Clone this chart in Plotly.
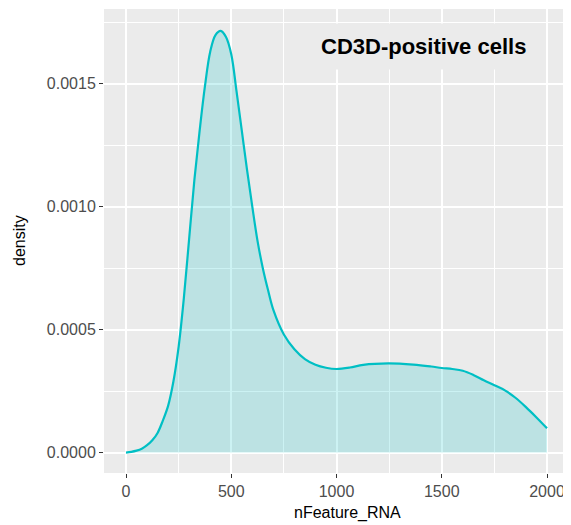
import plotly.graph_objects as go

# Data
n_feature = [0, 25, 50, 75, 100, 125, 150, 175, 200, 225, 250, 275, 300, 325,
             350, 375, 400, 425, 450, 475, 500, 525, 550, 575, 600, 625, 650,
             675, 700, 750, 800, 850, 900, 950, 1000, 1064, 1127, 1246, 1365,
             1450, 1500, 1550, 1600, 1650, 1700, 1750, 1800, 1850, 1900, 1950,
             2000]
density = [0.0, 0.000003, 0.000008, 0.000016, 0.00003, 0.00005, 0.00008,
           0.00013, 0.00019, 0.000288, 0.00043, 0.00063, 0.00087, 0.00111,
           0.00131, 0.00149, 0.00163, 0.001698, 0.001715, 0.00169, 0.00162,
           0.00147, 0.00131, 0.00115, 0.00100, 0.00086, 0.00075, 0.00066,
           0.00058, 0.00048, 0.00042, 0.00038, 0.000357, 0.000345, 0.00034,
           0.000346, 0.000357, 0.000363, 0.000358, 0.00035, 0.000344, 0.00034,
           0.000333, 0.000316, 0.000294, 0.000274, 0.000253, 0.000223,
           0.000185, 0.000143, 0.0000988]

x_ticks = [0, 500, 1000, 1500, 2000]
y_ticks = [0.0, 0.0005, 0.0010, 0.0015]
y_tick_labels = ["0.0000", "0.0005", "0.0010", "0.0015"]
title_text = "CD3D-positive cells"
x_title = "nFeature_RNA"
y_title = "density"

FONT = "Liberation Sans, Arial, Helvetica, sans-serif"

fig = go.Figure()
fig.add_trace(go.Scatter(
    x=n_feature, y=density, mode="lines",
    line=dict(color="#00BFC4", width=2.2, shape="spline", smoothing=1.0),
    fill="tozeroy", fillcolor="rgba(0,191,196,0.2)",
    hoverinfo="skip", showlegend=False,
))

fig.add_annotation(
    x=1411, y=0.00165, xref="x", yref="y", text="<b>" + title_text + "</b>",
    showarrow=False, font=dict(family=FONT, size=22, color="black"),
    bgcolor="#EBEBEB", borderpad=10,
)
# axis titles
fig.add_annotation(
    x=0.5, y=0, xref="paper", yref="paper", xanchor="center", yanchor="middle",
    xshift=11, yshift=-40,
    text=x_title, showarrow=False, font=dict(family=FONT, size=16, color="black"),
)
fig.add_annotation(
    x=0, y=0.5, xref="paper", yref="paper", xanchor="center", yanchor="middle",
    xshift=-85, textangle=-90,
    text=y_title, showarrow=False, font=dict(family=FONT, size=16, color="black"),
)

axis_common = dict(
    showline=False, zeroline=False, showgrid=True, gridcolor="white",
    gridwidth=1.6, ticks="outside", ticklen=4, tickwidth=1, tickcolor="#333333",
    tickfont=dict(family=FONT, size=16, color="#4D4D4D"), automargin=False,
)

fig.update_xaxes(
    range=[-104.5, 2104.5], tickvals=x_ticks,
    minor=dict(dtick=250, tick0=250, showgrid=True, gridcolor="white", gridwidth=0.8, ticks=""),
    **axis_common,
)
fig.update_yaxes(
    range=[-0.000083, 0.001804], tickvals=y_ticks, ticktext=y_tick_labels,
    minor=dict(dtick=0.00025, tick0=0.00025, showgrid=True, gridcolor="white", gridwidth=0.8, ticks=""),
    **axis_common,
)

# page body has an 8px margin, so the figure is sized to fit the window
fig.update_layout(
    width=563, height=517,
    margin=dict(l=96, r=2, t=1, b=52, autoexpand=False),
    plot_bgcolor="#EBEBEB", paper_bgcolor="white",
    font=dict(family=FONT),
)

fig.write_html("out.html")
